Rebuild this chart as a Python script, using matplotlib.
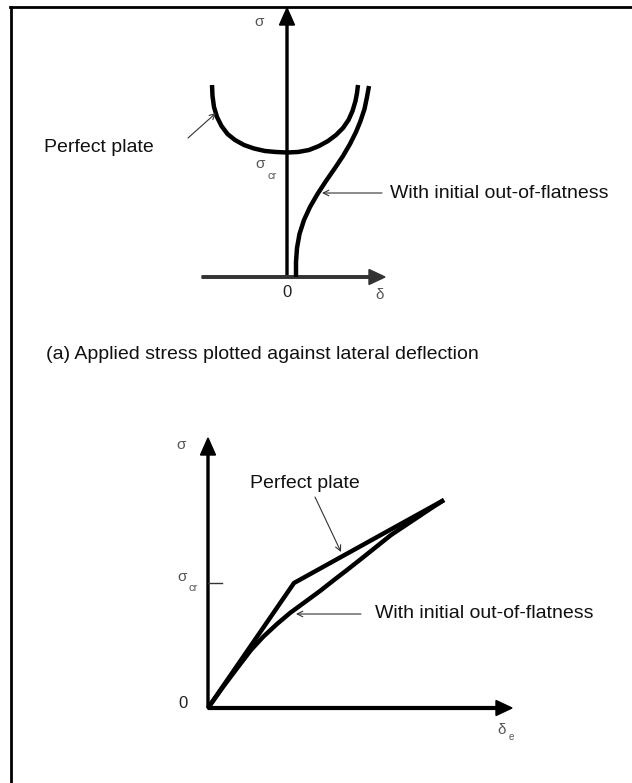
import matplotlib.pyplot as plt
from matplotlib.lines import Line2D

plt.rcParams['font.family'] = ['Liberation Sans', 'DejaVu Sans']

# (a) stress against lateral deflection (delta, sigma), same units on both axes
sigma_cr = 12.5
perfect_a_delta = [-7.5, -7.45, -7.3, -7.0, -6.55, -5.95, -5.2, -4.3, -3.3, -2.2, -1.1, 0.0,
                   1.1, 2.2, 3.2, 4.1, 4.9, 5.6, 6.15, 6.55, 6.85, 7.0, 7.1]
perfect_a_sigma = [19.2, 18.1, 17.0, 16.0, 15.1, 14.3, 13.7, 13.2, 12.85, 12.6, 12.5, 12.45,
                   12.5, 12.7, 13.1, 13.6, 14.2, 14.9, 15.7, 16.6, 17.6, 18.4, 19.2]
imperfect_a_delta = [0.9, 0.9, 1.0, 1.25, 1.7, 2.3, 3.05, 3.9, 4.8, 5.6,
                     6.3, 6.9, 7.35, 7.75, 8.0, 8.2]
imperfect_a_sigma = [0.0, 1.5, 2.9, 4.3, 5.7, 7.0, 8.3, 9.6, 10.9, 12.1,
                     13.3, 14.5, 15.6, 16.8, 18.0, 19.1]

# (b) stress against end shortening
perfect_b_delta = [0.0, 8.6, 23.6]
perfect_b_sigma = [0.0, 12.5, 20.8]
imperfect_b_delta = [0.0, 1.5, 3.0, 4.3, 5.5, 6.9, 8.2, 9.7, 11.2, 12.6, 13.9,
                     15.3, 16.8, 18.3, 19.8, 21.3, 22.5, 23.6]
imperfect_b_sigma = [0.0, 2.1, 4.1, 5.8, 7.1, 8.4, 9.5, 10.6, 11.7, 12.8, 13.8,
                     14.9, 16.1, 17.3, 18.3, 19.3, 20.1, 20.8]

label_perfect = "Perfect plate"
label_imperfect = "With initial out-of-flatness"
caption_a = "(a) Applied stress plotted against lateral deflection"

fig = plt.figure(figsize=(6.32, 7.83), dpi=100)

# frame round the figure (top and left edges only)
fig.add_artist(Line2D([10 / 632, 1.0], [1 - 7 / 783, 1 - 7 / 783], color='black', lw=2.0))
fig.add_artist(Line2D([11 / 632, 11 / 632], [0.0, 1 - 7 / 783], color='black', lw=2.0))

curve_kw = dict(color='black', lw=3.2, solid_capstyle='butt', solid_joinstyle='round')
text_kw = dict(fontsize=14, color='#111111')
pointer = dict(arrowstyle='->', lw=0.8, color='#333333', shrinkA=0, shrinkB=0)

# ---- diagram (a) ----
ax_a = fig.add_axes([0, 0, 1, 1])
ax_a.set_xlim(-28.7, 34.5)
ax_a.set_ylim(-50.6, 27.7)
ax_a.axis('off')

ax_a.arrow(0, 0, 0, 26.9, width=0.2, head_width=1.5, head_length=1.7,
           length_includes_head=True, color='black')
ax_a.arrow(-8.5, 0, 18.3, 0, width=0.25, head_width=1.5, head_length=1.6,
           length_includes_head=True, color='#333333')

ax_a.plot(perfect_a_delta, perfect_a_sigma, **curve_kw)
ax_a.plot(imperfect_a_delta, imperfect_a_sigma, **curve_kw)

ax_a.text(-2.8, 25.5, "σ", fontsize=11, color='#555555', ha='center', va='center')
ax_a.text(-2.7, sigma_cr - 1.2, "σ", fontsize=11, color='#555555', ha='center', va='center')
ax_a.text(-1.5, sigma_cr - 2.4, "cr", fontsize=8, color='#555555', ha='center', va='center')
ax_a.text(0, -1.6, "0", fontsize=12, color='#222222', ha='center', va='center')
ax_a.text(9.3, -1.8, "δ", fontsize=11, color='#555555', ha='center', va='center')

ax_a.text(-24.3, 12.9, label_perfect, ha='left', va='center', **text_kw)
ax_a.annotate("", xy=(-7.1, 16.4), xytext=(-9.9, 13.9), arrowprops=pointer)
ax_a.text(10.3, 8.4, label_imperfect, ha='left', va='center', **text_kw)
ax_a.annotate("", xy=(3.5, 8.4), xytext=(9.5, 8.4), arrowprops=pointer)

ax_a.text(-24.1, -7.8, caption_a, ha='left', va='center', **text_kw)

# ---- diagram (b) ----
ax_b = fig.add_axes([0, 0, 1, 1], label='b')
ax_b.set_xlim(-20.8, 42.4)
ax_b.set_ylim(-7.5, 70.8)
ax_b.axis('off')
ax_b.patch.set_alpha(0)

ax_b.arrow(0, 0, 0, 27.0, width=0.2, head_width=1.5, head_length=1.7,
           length_includes_head=True, color='black')
ax_b.arrow(0, 0, 30.4, 0, width=0.28, head_width=1.5, head_length=1.6,
           length_includes_head=True, color='black')
ax_b.plot([0, 1.4], [sigma_cr, sigma_cr], color='#333333', lw=1.0)

ax_b.plot(perfect_b_delta, perfect_b_sigma, **curve_kw)
ax_b.plot(imperfect_b_delta, imperfect_b_sigma, **curve_kw)

ax_b.text(-2.7, 26.3, "σ", fontsize=11, color='#555555', ha='center', va='center')
ax_b.text(-2.6, sigma_cr + 0.6, "σ", fontsize=11, color='#555555', ha='center', va='center')
ax_b.text(-1.5, sigma_cr - 0.5, "cr", fontsize=8, color='#555555', ha='center', va='center')
ax_b.text(-2.5, 0.5, "0", fontsize=12, color='#222222', ha='center', va='center')
ax_b.text(29.4, -2.2, "δ", fontsize=11, color='#555555', ha='center', va='center')
ax_b.text(30.3, -2.9, "e", fontsize=7, color='#555555', ha='center', va='center')

ax_b.text(9.65, 22.5, label_perfect, ha='center', va='center', **text_kw)
ax_b.annotate("", xy=(13.3, 15.6), xytext=(10.7, 21.1), arrowprops=pointer)
ax_b.text(16.7, 9.4, label_imperfect, ha='left', va='center', **text_kw)
ax_b.annotate("", xy=(8.8, 9.4), xytext=(15.3, 9.4), arrowprops=pointer)

fig.savefig("out.png", dpi=100)
